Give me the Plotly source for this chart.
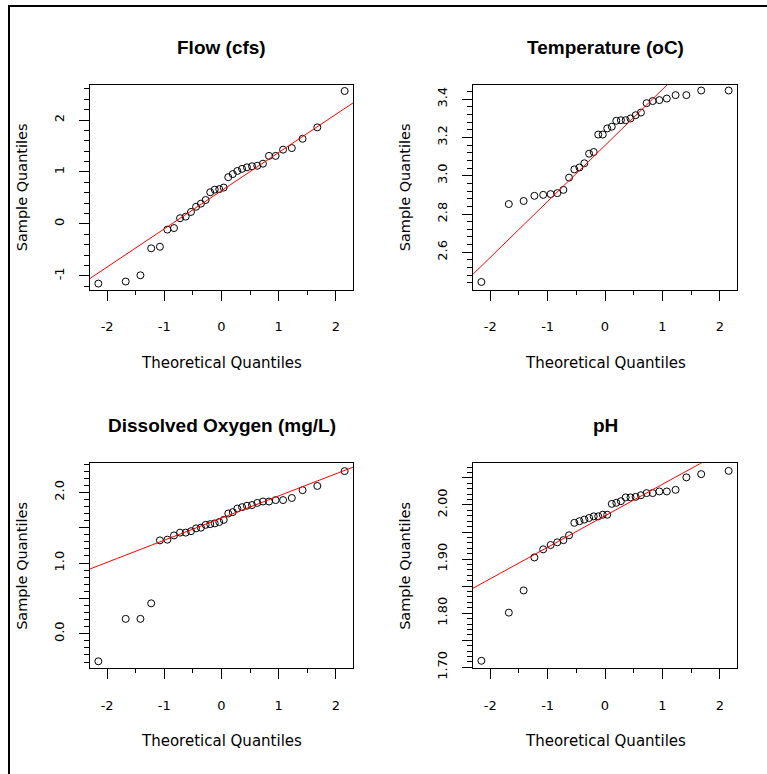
import plotly.graph_objects as go

# ---------------- data ----------------
theoretical_q = [-2.154, -1.676, -1.418, -1.230, -1.077, -0.947, -0.831, -0.725,
                 -0.626, -0.534, -0.445, -0.360, -0.277, -0.197, -0.118, -0.039,
                 0.039, 0.118, 0.197, 0.277, 0.360, 0.445, 0.534, 0.626,
                 0.725, 0.831, 0.947, 1.077, 1.230, 1.418, 1.676, 2.154]

flow = [-1.15, -1.11, -0.99, -0.47, -0.44, -0.11, -0.08, 0.11,
        0.14, 0.23, 0.33, 0.39, 0.46, 0.61, 0.66, 0.67,
        0.70, 0.90, 0.96, 1.02, 1.06, 1.09, 1.11, 1.12,
        1.16, 1.31, 1.31, 1.43, 1.46, 1.64, 1.86, 2.56]

temperature = [2.445, 2.852, 2.868, 2.895, 2.900, 2.904, 2.909, 2.926,
               2.990, 3.033, 3.043, 3.065, 3.115, 3.124, 3.215, 3.215,
               3.247, 3.256, 3.287, 3.290, 3.290, 3.299, 3.316, 3.330,
               3.379, 3.390, 3.395, 3.403, 3.421, 3.421, 3.445, 3.445]

dissolved_oxygen = [-0.39, 0.21, 0.21, 0.43, 1.32, 1.33, 1.39, 1.43,
                    1.43, 1.45, 1.49, 1.50, 1.54, 1.55, 1.56, 1.58,
                    1.61, 1.70, 1.72, 1.77, 1.79, 1.81, 1.82, 1.85,
                    1.87, 1.87, 1.89, 1.89, 1.92, 2.03, 2.09, 2.30]

ph = [1.712, 1.801, 1.842, 1.903, 1.918, 1.926, 1.931, 1.935,
      1.944, 1.967, 1.970, 1.973, 1.976, 1.979, 1.979, 1.982,
      1.982, 2.002, 2.004, 2.007, 2.014, 2.014, 2.015, 2.018,
      2.022, 2.022, 2.025, 2.025, 2.028, 2.051, 2.057, 2.063]

titles = ["Flow (cfs)", "Temperature (oC)", "Dissolved Oxygen (mg/L)", "pH"]
series = [flow, temperature, dissolved_oxygen, ph]

# reference (qq) lines
line_slope = [0.735, 0.2924, 0.313, 0.0582]
line_intercept = [0.64, 3.158, 1.636, 1.980]

x_tick_vals = [-2, -1, 0, 1, 2]
x_tick_text = ["-2", "-1", "0", "1", "2"]

y_tick_vals = [
    [-1, 0, 1, 2],
    [2.6, 2.8, 3.0, 3.2, 3.4],
    [0.0, 0.5, 1.0, 1.5, 2.0],
    [1.70, 1.75, 1.80, 1.85, 1.90, 1.95, 2.00, 2.05],
]
y_tick_text = [
    ["-1", "0", "1", "2"],
    ["2.6", "2.8", "3.0", "3.2", "3.4"],
    ["0.0", "", "1.0", "", "2.0"],
    ["1.70", "", "1.80", "", "1.90", "", "2.00", ""],
]
y_minor_step = [0.2, 0.04, 0.1, 0.01]
y_ranges = [[-1.27, 2.68], [2.404, 3.475], [-0.49, 2.41], [1.698, 2.077]]
x_range = [-2.3, 2.3]

# ---------------- layout geometry (pixels) ----------------
W, H = 767, 774
boxes = [  # left, right, top, bottom
    (90, 353, 86, 294),
    (473, 737, 86, 294),
    (90, 353, 470, 678),
    (473, 737, 470, 678),
]

FONT = "DejaVu Sans"
TITLE_FONT = "Arial"

fig = go.Figure()
layout = dict(
    width=W, height=H,
    margin=dict(l=0, r=0, t=0, b=0),
    paper_bgcolor="white", plot_bgcolor="white",
    showlegend=False,
    annotations=[], shapes=[],
)

for i in range(4):
    xa = "x" if i == 0 else f"x{i+1}"
    ya = "y" if i == 0 else f"y{i+1}"
    l, r, t, b = boxes[i]
    xdom = [l / W, r / W]
    ydom = [1 - b / H, 1 - t / H]

    fig.add_trace(go.Scatter(
        x=theoretical_q, y=series[i], mode="markers",
        marker=dict(symbol="circle-open", size=7, color="black",
                    line=dict(color="black", width=1)),
        xaxis=xa, yaxis=ya, hoverinfo="skip",
    ))
    lx = [x_range[0], x_range[1]]
    ly = [line_intercept[i] + line_slope[i] * v for v in lx]
    fig.add_trace(go.Scatter(
        x=lx, y=ly, mode="lines", line=dict(color="red", width=1),
        xaxis=xa, yaxis=ya, hoverinfo="skip",
    ))

    xkey = "xaxis" if i == 0 else f"xaxis{i+1}"
    ykey = "yaxis" if i == 0 else f"yaxis{i+1}"
    layout[xkey] = dict(
        domain=xdom, anchor=ya, range=x_range,
        showgrid=False, zeroline=False,
        showline=True, mirror=True, linecolor="black", linewidth=1,
        ticks="outside", ticklen=10, tickwidth=1, tickcolor="black",
        tickmode="array", tickvals=x_tick_vals, ticktext=x_tick_text,
        tickfont=dict(family=FONT, size=13, color="black"),
        ticklabelstandoff=15,
        minor=dict(tickmode="linear", tick0=0, dtick=0.5, ticks="outside",
                   ticklen=4, tickwidth=1, tickcolor="black", showgrid=False),
    )
    layout[ykey] = dict(
        domain=ydom, anchor=xa, range=y_ranges[i],
        showgrid=False, zeroline=False,
        showline=True, mirror=True, linecolor="black", linewidth=1,
        ticks="outside", ticklen=10, tickwidth=1, tickcolor="black",
        tickmode="array", tickvals=y_tick_vals[i], ticktext=y_tick_text[i],
        tickangle=-90,
        tickfont=dict(family=FONT, size=13, color="black"),
        ticklabelstandoff=10,
        minor=dict(tickmode="linear", tick0=0, dtick=y_minor_step[i], ticks="outside",
                   ticklen=5, tickwidth=1, tickcolor="black", showgrid=False),
    )

    cx = (l + r) / 2 / W
    # panel title
    layout["annotations"].append(dict(
        text=f"<b>{titles[i]}</b>", x=cx, y=1 - (t - 38) / H,
        xref="paper", yref="paper", xanchor="center", yanchor="middle",
        showarrow=False, font=dict(family=TITLE_FONT, size=19, color="black"),
    ))
    # x-axis title
    layout["annotations"].append(dict(
        text="Theoretical Quantiles", x=cx, y=1 - (b + 74) / H,
        xref="paper", yref="paper", xanchor="center", yanchor="middle",
        showarrow=False, font=dict(family=FONT, size=15, color="black"),
    ))
    # y-axis title
    layout["annotations"].append(dict(
        text="Sample Quantiles", x=(l - 68) / W, y=1 - (t + b) / 2 / H,
        xref="paper", yref="paper", xanchor="center", yanchor="middle",
        textangle=-90,
        showarrow=False, font=dict(family=FONT, size=14.5, color="black"),
    ))

# outer frame (only left and top edges are visible in the picture)
layout["shapes"].append(dict(
    type="rect", xref="paper", yref="paper",
    x0=9 / W, x1=1.2, y0=-0.2, y1=1 - 6 / H,
    line=dict(color="black", width=2), fillcolor="rgba(0,0,0,0)",
))

fig.update_layout(**layout)
fig.write_html("out.html",
               config={"displayModeBar": False},
               post_script="document.body.style.margin='0';document.body.style.padding='0';")
